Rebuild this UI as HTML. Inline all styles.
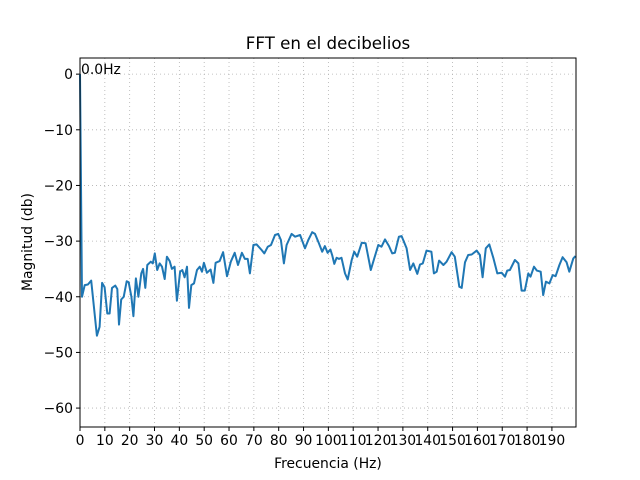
<!DOCTYPE html>
<html><head><meta charset="utf-8"><style>
body{margin:0;background:#fff;}
svg{display:block;font-family:"DejaVu Sans","Liberation Sans",sans-serif;}
</style></head><body>
<svg id="chart" width="640" height="480" viewBox="0 0 640 480">
<rect width="640" height="480" fill="#fff"/>
<text x="328" y="49" text-anchor="middle" font-size="16.7">FFT en el decibelios</text>
<g id="grid"></g>
<g id="ticks"></g>
<path id="line" fill="none" stroke="#1f77b4" stroke-width="2" stroke-linejoin="round"/>
<rect x="80" y="58" width="496" height="369" fill="none" stroke="#000" stroke-width="1"/>
<text x="81" y="74" font-size="13.9">0.0Hz</text>
<text x="328" y="468" text-anchor="middle" font-size="13.9">Frecuencia (Hz)</text>
<text x="32" y="242" text-anchor="middle" font-size="13.9" transform="rotate(-90 32 242)">Magnitud (db)</text>
</svg>
<script>
const freqs=[0,0.8,1.9,3.2,4.5,6.8,7.9,8.9,9.9,11.0,11.9,12.9,14.2,15.0,15.7,16.6,17.6,18.8,19.6,20.7,21.5,22.5,23.5,24.7,25.4,26.3,27.1,28.5,29.3,30.1,31.1,32.1,33.0,34.1,35.0,36.1,37.0,38.1,39.0,40.3,41.2,42.1,43.1,43.9,44.8,45.9,47.1,48.2,49.1,49.9,51.1,52.6,53.7,54.6,56.2,57.6,59.2,60.7,62.3,63.6,65.2,66.4,67.5,68.4,69.8,71.1,73.1,74.2,75.6,76.9,78.5,79.8,80.9,82.1,83.2,85.2,86.6,88.6,90.6,91.9,93.5,94.6,96.2,97.5,98.6,99.7,100.8,101.6,102.4,103.3,104.3,105.3,106.7,107.8,109.4,110.4,111.6,113.4,115.0,117.1,118.4,120.1,121.4,122.8,124.4,125.7,126.8,128.4,129.5,131.5,132.9,134.2,135.8,136.9,138.0,139.5,141.5,142.5,143.6,144.6,146.3,147.6,149.6,150.9,152.7,153.7,155.0,156.3,157.7,159.7,161.0,162.1,163.4,164.8,166.4,168.0,169.8,171.1,172.0,173.1,175.1,176.5,177.8,179.1,180.5,181.4,182.8,183.9,185.5,186.5,187.6,189.0,190.3,191.5,193.0,194.3,195.9,197.0,198.6,199.5];
const magDb=[0,-40,-37.9,-37.8,-37.1,-47,-45.4,-37.5,-38.3,-43,-43,-38.4,-38,-38.6,-45,-40.5,-40,-37.2,-37.4,-40,-43.5,-36.7,-40,-35.8,-35,-38.4,-34.3,-33.7,-34,-32.2,-35.2,-34,-34.6,-36.8,-32.8,-33.6,-35,-34.6,-40.7,-35.5,-35.2,-36.5,-34.6,-42,-37.9,-37.6,-35.2,-34.6,-35.5,-33.9,-35.7,-35.1,-37.5,-33.9,-33.6,-32,-36.3,-33.7,-32.1,-34.3,-32.1,-33.2,-33.2,-35.8,-30.7,-30.6,-31.6,-32.2,-31,-30.7,-28.9,-28.7,-29.8,-34,-30.7,-28.7,-29.2,-28.9,-31.3,-29.8,-28.4,-28.7,-30.4,-31.9,-30.9,-32.1,-31.5,-32.6,-34.1,-33,-33.2,-33,-35.8,-36.9,-33.4,-31.9,-32.8,-30.3,-30.4,-35.2,-33.2,-30.7,-31,-29.7,-30.9,-32.2,-32.1,-29.2,-29.1,-31.3,-35.2,-34,-35.9,-34.2,-34,-31.7,-31.9,-35.8,-35.5,-33.5,-34.3,-33.7,-32,-32.8,-38.2,-38.4,-33.8,-32.5,-32.4,-31.7,-32.5,-36.5,-31.3,-30.6,-33,-35.8,-35.7,-36.4,-35.3,-35.2,-33.4,-34,-38.9,-38.9,-35.8,-36.4,-34.6,-35.3,-35.5,-39.7,-37.3,-37.6,-36.1,-36.3,-34.3,-32.9,-33.8,-35.5,-33.1,-32.7];
const xTicks=[0,10,20,30,40,50,60,70,80,90,100,110,120,130,140,150,160,170,180,190];
const yTicks=[0,-10,-20,-30,-40,-50,-60];
const L=80,T=58,R=576,B=427;
const xMin=0,xMax=199.7,yMin=-63.4,yMax=2.9;
const sx=v=>L+(v-xMin)/(xMax-xMin)*(R-L);
const sy=v=>B-(v-yMin)/(yMax-yMin)*(B-T);
const NS="http://www.w3.org/2000/svg";
const grid=document.getElementById('grid'),ticks=document.getElementById('ticks');
function mk(tag,attrs,parent){const e=document.createElementNS(NS,tag);for(const k in attrs)e.setAttribute(k,attrs[k]);parent.appendChild(e);return e;}
xTicks.forEach(t=>{const x=sx(t);
const g=mk('line',{x1:x,x2:x,y1:T,y2:B,stroke:'#b0b0b0','stroke-width':0.8,'stroke-dasharray':'1,3'},grid);


mk('line',{x1:x,x2:x,y1:B,y2:B+4,stroke:'#000'},ticks);
const tx=mk('text',{x:x,y:B+18,'text-anchor':'middle','font-size':13.9},ticks);tx.textContent=t;

});
yTicks.forEach(t=>{const y=sy(t);
const g=mk('line',{x1:L,x2:R,y1:y,y2:y,stroke:'#b0b0b0','stroke-width':0.8,'stroke-dasharray':'1,3'},grid);


mk('line',{x1:L-4,x2:L,y1:y,y2:y,stroke:'#000'},ticks);
const tx=mk('text',{x:L-7,y:y+5,'text-anchor':'end','font-size':13.9},ticks);tx.textContent=(t<0?'\u2212'+(-t):t);

});
document.getElementById('line').setAttribute('d',freqs.map((f,i)=>(i?'L':'M')+sx(f).toFixed(1)+','+sy(magDb[i]).toFixed(1)).join(''));
</script>
</body></html>
